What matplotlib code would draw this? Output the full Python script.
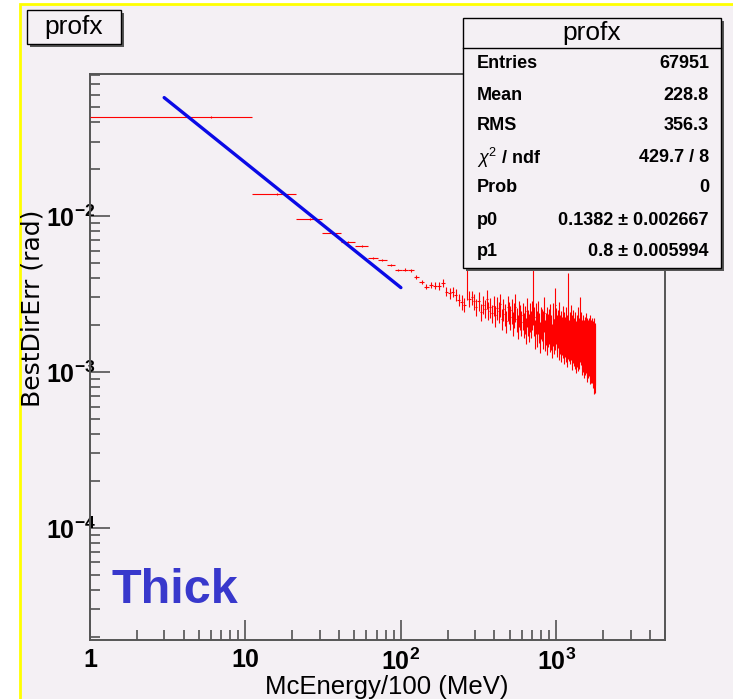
import matplotlib
matplotlib.use("Agg")
import matplotlib.pyplot as plt
import numpy as np
from matplotlib.patches import Rectangle
from matplotlib.ticker import FixedLocator, FixedFormatter, LogLocator, NullFormatter

plt.rcParams['font.family'] = ['Liberation Sans', 'DejaVu Sans']
plt.rcParams['mathtext.fontset'] = 'custom'
plt.rcParams['mathtext.rm'] = 'Liberation Sans'
plt.rcParams['mathtext.it'] = 'Liberation Sans:italic'
plt.rcParams['mathtext.bf'] = 'Liberation Sans:bold'

# profile binning (10 wide bins starting at 1)
bin_lo = 1.0
bin_width = 10.0

# bin means and errors, in units of 1e-3 rad
means_mrad = [
    43.2, 13.8, 9.57, 7.78, 6.77, 6.45, 5.40, 5.20, 4.85, 4.51,
    4.51, 4.48, 4.08, 3.77, 3.52, 3.61, 3.57, 3.56, 3.73, 3.27,
    3.20, 3.27, 3.12, 2.90, 2.79, 2.70, 5.00, 2.95, 3.00, 2.83,
    2.62, 2.85, 2.41, 2.70, 2.55, 2.93, 2.47, 2.60, 2.38, 2.66,
    2.30, 2.58, 2.44, 2.71, 2.19, 2.52, 2.36, 2.12, 2.60, 2.41,
    2.25, 2.48, 2.05, 2.33, 2.62, 2.18, 1.98, 2.40, 2.27, 2.09,
    2.31, 2.02, 2.20, 1.86, 2.45, 2.10, 1.95, 2.28, 2.06, 2.36,
    4.80, 2.14, 1.78, 2.25, 2.01, 1.85, 2.30, 1.96, 1.70, 2.12,
    2.05, 1.82, 1.99, 2.40, 1.76, 1.93, 2.10, 1.68, 1.90, 2.02,
    1.79, 2.15, 1.85, 1.62, 1.97, 2.20, 1.74, 1.88, 2.70, 2.03,
    1.84, 1.70, 1.95, 2.18, 1.63, 1.80, 1.92, 1.58, 1.77, 2.06,
    1.69, 1.88, 1.55, 1.74, 2.00, 1.62, 1.81, 1.50, 2.90, 1.71,
    1.66, 1.85, 1.59, 2.05, 1.72, 1.48, 1.78, 1.64, 1.90, 1.57,
    1.70, 1.52, 1.83, 1.61, 1.45, 1.76, 1.58, 1.95, 1.50, 1.68,
    1.55, 1.73, 2.30, 1.64, 1.80, 1.42, 1.60, 1.52, 1.71, 1.44,
    1.58, 1.40, 1.66, 1.49, 1.75, 1.53, 1.36, 1.62, 1.47, 1.57,
    1.43, 1.61, 1.50, 1.34, 1.68, 1.46, 1.55, 1.38, 1.59, 1.42,
    1.51, 1.33, 1.48, 1.40, 1.56, 1.30, 1.45, 1.37,
]
errs_mrad = [
    0.45, 0.16, 0.11, 0.09, 0.09, 0.09, 0.08, 0.09, 0.09, 0.09,
    0.10, 0.11, 0.12, 0.12, 0.13, 0.17, 0.19, 0.20, 0.24, 0.22,
    0.26, 0.25, 0.28, 0.27, 0.30, 0.28, 2.10, 0.33, 0.30, 0.34,
    0.33, 0.38, 0.30, 0.36, 0.34, 0.41, 0.33, 0.37, 0.31, 0.39,
    0.35, 0.42, 0.37, 0.45, 0.33, 0.40, 0.38, 0.34, 0.47, 0.39,
    0.40, 0.46, 0.36, 0.43, 0.52, 0.39, 0.35, 0.47, 0.41, 0.38,
    0.45, 0.38, 0.44, 0.36, 0.52, 0.41, 0.39, 0.48, 0.40, 0.50,
    2.80, 0.45, 0.37, 0.50, 0.43, 0.40, 0.55, 0.42, 0.38, 0.49,
    0.47, 0.41, 0.46, 0.60, 0.40, 0.45, 0.52, 0.39, 0.46, 0.50,
    0.44, 0.56, 0.46, 0.40, 0.51, 0.58, 0.44, 0.49, 0.75, 0.53,
    0.49, 0.45, 0.53, 0.62, 0.43, 0.50, 0.54, 0.42, 0.49, 0.58,
    0.47, 0.54, 0.43, 0.50, 0.60, 0.46, 0.52, 0.43, 1.40, 0.50,
    0.49, 0.56, 0.47, 0.63, 0.52, 0.45, 0.55, 0.50, 0.60, 0.48,
    0.53, 0.47, 0.58, 0.51, 0.46, 0.57, 0.50, 0.65, 0.48, 0.55,
    0.51, 0.58, 0.70, 0.54, 0.61, 0.47, 0.55, 0.52, 0.60, 0.49,
    0.56, 0.48, 0.59, 0.53, 0.63, 0.55, 0.50, 0.60, 0.54, 0.58,
    0.52, 0.60, 0.56, 0.50, 0.64, 0.55, 0.59, 0.53, 0.62, 0.57,
    0.58, 0.54, 0.63, 0.60, 0.66, 0.58, 0.62, 0.64,
]

# power law fit p0 * x^-p1 over [3, 100]
fit_p0 = 0.1382
fit_p1 = 0.8
fit_range = (3.0, 100.0)

stat_names = ['Entries', 'Mean', 'RMS', r'$\chi^{2}$ / ndf', 'Prob', 'p0', 'p1']
stat_values = ['67951', '228.8', '356.3', '429.7 / 8', '0', '0.1382 ± 0.002667', '0.8 ± 0.005994']

x_tick_vals = [1, 10, 100, 1000]
x_tick_labels = ['1', '10', r'$\mathbf{10^{2}}$', r'$\mathbf{10^{3}}$']
y_tick_vals = [1e-4, 1e-3, 1e-2]
y_tick_labels = [r'$\mathbf{10^{-4}}$', r'$\mathbf{10^{-3}}$', r'$\mathbf{10^{-2}}$']

bg = '#f4f0f4'
W, H = 733, 699


def fx(px):
    return px / W


def fy(py):
    return 1 - py / H


fig = plt.figure(figsize=(W / 100, H / 100), dpi=100)
fig.patch.set_facecolor('white')

# pad area with yellow border (left and top visible)
canvas = Rectangle((fx(20), -0.1), 1.2, fy(4) + 0.1, transform=fig.transFigure,
                   facecolor=bg, edgecolor='#ffff00', lw=2, zorder=-5)
fig.patches.append(canvas)

ax = fig.add_axes([fx(90), fy(640), fx(665) - fx(90), fy(73.6) - fy(640)])
ax.set_facecolor(bg)
ax.set_xscale('log')
ax.set_yscale('log')
ax.set_xlim(1, 5001)
ax.set_ylim(1.91e-5, 0.0818)

for s in ax.spines.values():
    s.set_color('#555555')
    s.set_linewidth(1.4)

ax.xaxis.set_major_locator(FixedLocator(x_tick_vals))
ax.xaxis.set_major_formatter(FixedFormatter(x_tick_labels))
ax.yaxis.set_major_locator(FixedLocator(y_tick_vals))
ax.yaxis.set_major_formatter(FixedFormatter(y_tick_labels))
ax.xaxis.set_minor_locator(LogLocator(base=10, subs=np.arange(2, 10), numticks=20))
ax.yaxis.set_minor_locator(LogLocator(base=10, subs=np.arange(2, 10), numticks=20))
ax.xaxis.set_minor_formatter(NullFormatter())
ax.yaxis.set_minor_formatter(NullFormatter())
ax.tick_params(which='both', direction='in', top=False, right=False, color='#444444', width=1.1)
ax.tick_params(which='major', length=14.4, labelsize=18)
ax.tick_params(which='minor', length=7.2)
ax.tick_params(axis='x', pad=6)
ax.tick_params(axis='y', pad=-4)
for lab in ax.get_xticklabels() + ax.get_yticklabels():
    lab.set_fontweight('bold')

means = np.array(means_mrad) * 1e-3
errs = np.array(errs_mrad) * 1e-3
centers = bin_lo + bin_width * (np.arange(len(means)) + 0.5)

ax.errorbar(centers, means, xerr=bin_width / 2, yerr=errs, fmt='none',
            ecolor='#ff0000', elinewidth=0.8, capsize=0, zorder=3)

xf = np.geomspace(fit_range[0], fit_range[1], 50)
ax.plot(xf, fit_p0 * xf ** (-fit_p1), color='#0a0ae6', lw=2.4, zorder=4,
        solid_capstyle='round')

# axis titles
fig.text(fx(387), fy(687), 'McEnergy/100 (MeV)', ha='center', va='center', fontsize=18.5)
fig.text(fx(33), fy(308), 'BestDirErr (rad)', ha='center', va='center', fontsize=18,
         rotation=90, family='DejaVu Sans')
fig.text(fx(112), fy(603), 'Thick', ha='left', va='baseline', fontsize=35,
         fontweight='bold', color='#3838cc')


def shadow_box(x0, y0, x1, y1):
    fig.patches.append(Rectangle((fx(x0 + 3), fy(y1 + 3)), fx(x1 - x0), (y1 - y0) / H,
                                 transform=fig.transFigure, facecolor='#555555',
                                 edgecolor='none', zorder=5))
    fig.patches.append(Rectangle((fx(x0), fy(y1)), fx(x1 - x0), (y1 - y0) / H,
                                 transform=fig.transFigure, facecolor=bg,
                                 edgecolor='black', lw=1, zorder=6))


# title box
shadow_box(27, 10, 121, 44)
fig.text(fx(74), fy(27), 'profx', ha='center', va='center', fontsize=19, zorder=7)

# stats box
shadow_box(463, 18, 721, 268)
fig.lines.append(plt.Line2D([fx(463), fx(721)], [fy(48), fy(48)], transform=fig.transFigure,
                            color='black', lw=1, zorder=7))
fig.text(fx(592), fy(33), 'profx', ha='center', va='center', fontsize=19, zorder=7)
row_y = [63, 95, 126, 158, 188, 220, 251]
for name, val, yy in zip(stat_names, stat_values, row_y):
    fig.text(fx(477), fy(yy), name, ha='left', va='center', fontsize=13,
             fontweight='bold', zorder=7)
    fig.text(fx(709), fy(yy), val, ha='right', va='center', fontsize=13,
             fontweight='bold', zorder=7)

fig.savefig('out.png', dpi=100, facecolor=fig.get_facecolor())
